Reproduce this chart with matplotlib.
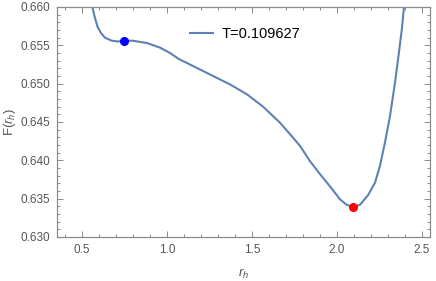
import matplotlib
matplotlib.use("Agg")
import matplotlib.pyplot as plt
from matplotlib.ticker import MultipleLocator, FormatStrFormatter

# curve
r_h = [0.561, 0.576, 0.592, 0.612, 0.635, 0.675, 0.712, 0.747, 0.800, 0.882,
       0.959, 1.018, 1.071, 1.135, 1.253, 1.371, 1.471, 1.565, 1.665, 1.724,
       1.782, 1.841, 1.900, 1.959, 2.018, 2.057, 2.096, 2.135, 2.184, 2.224,
       2.253, 2.282, 2.312, 2.341, 2.361, 2.381, 2.394]
F = [0.6600, 0.6586, 0.6574, 0.6566, 0.6560, 0.6556, 0.6555, 0.6556, 0.6556, 0.6553,
     0.6547, 0.6540, 0.6532, 0.6525, 0.6512, 0.6499, 0.6486, 0.6470, 0.6449, 0.6434,
     0.6419, 0.6399, 0.6382, 0.6366, 0.6349, 0.6342, 0.6339, 0.6342, 0.6355, 0.6371,
     0.6393, 0.6423, 0.6458, 0.6501, 0.6535, 0.6570, 0.6600]

max_pt = (0.747, 0.6556)
min_pt = (2.096, 0.6339)
T_label = "T=0.109627"

plt.rcParams['font.family'] = ['Liberation Sans', 'DejaVu Sans']
plt.rcParams['mathtext.fontset'] = 'custom'
plt.rcParams['mathtext.it'] = 'Liberation Sans:italic'
plt.rcParams['mathtext.rm'] = 'Liberation Sans'

fig = plt.figure(figsize=(4.36, 2.81), dpi=100)
ax = fig.add_axes([0.1307, 0.1566, 0.8555, 0.8185])

ax.plot(r_h, F, color='#5E81B5', lw=1.5, label=T_label, zorder=2,
        solid_joinstyle='round')
ax.plot(*max_pt, 'o', color='#0000FF', ms=5.5, zorder=3)
ax.plot(*min_pt, 'o', color='#FF0000', ms=5.5, zorder=3)

ax.set_xlim(0.353, 2.547)
ax.set_ylim(0.630, 0.660)

ax.xaxis.set_major_locator(MultipleLocator(0.5))
ax.xaxis.set_minor_locator(MultipleLocator(0.1))
ax.yaxis.set_major_locator(MultipleLocator(0.005))
ax.yaxis.set_minor_locator(MultipleLocator(0.001))
ax.xaxis.set_major_formatter(FormatStrFormatter('%.1f'))
ax.yaxis.set_major_formatter(FormatStrFormatter('%.3f'))

gray = '#8a8a8a'
for s in ax.spines.values():
    s.set_color(gray)
    s.set_linewidth(0.9)
ax.tick_params(which='both', direction='in', top=True, right=True, color=gray,
               labelcolor='#555555', labelsize=8.5, width=0.7)
ax.tick_params(which='major', length=4, pad=5)
ax.tick_params(which='minor', length=2)

ax.set_xlabel(r'$r_h$', color='#555555', fontsize=9.5, labelpad=8)
ax.set_ylabel(r'F($r_h$)', color='#555555', fontsize=9.5, labelpad=2)

leg = ax.legend(loc='upper center', bbox_to_anchor=(0.505, 0.97), frameon=False,
                fontsize=10.5, handlelength=1.6, handletextpad=0.6)

fig.savefig('out.png', dpi=100)
